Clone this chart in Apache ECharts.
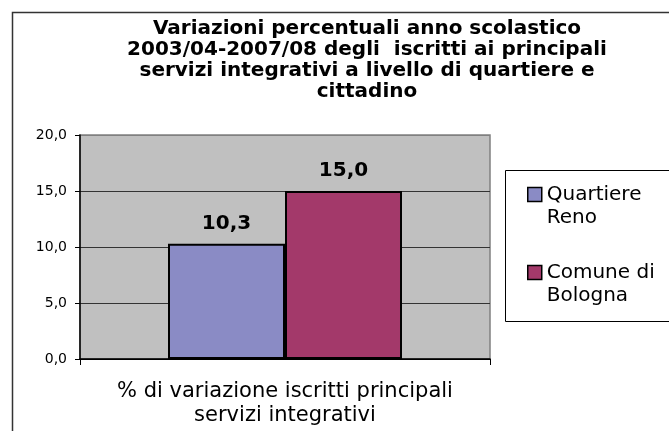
<!DOCTYPE html>
<html>
<head>
<meta charset="utf-8">
<script src="https://cdn.jsdelivr.net/npm/echarts@6/dist/echarts.min.js"></script>
<style>html,body{margin:0;padding:0;background:#fff;}#c{width:669px;height:431px;}</style>
</head>
<body>
<div id="c"></div>
<script>
var categories = ['% di variazione iscritti principali\nservizi integrativi'];
var seriesNames = ['Quartiere Reno', 'Comune di Bologna'];
var legendLabels = ['\nQuartiere\nReno', '\nComune di\nBologna'];
var quartiereReno = [10.3];
var comuneBologna = [15.0];
var yTicks = [0, 5, 10, 15, 20];

var FONT = 'DejaVu Sans';
function fmt(v) { return Number(v).toFixed(1).replace('.', ','); }

var chart = echarts.init(document.getElementById('c'), null, {renderer: 'canvas'});
chart.setOption({
  animation: false,
  backgroundColor: '#ffffff',
  title: {
    text: 'Variazioni percentuali anno scolastico\n2003/04-2007/08 degli  iscritti ai principali\nservizi integrativi a livello di quartiere e\ncittadino',
    left: 367,
    top: 18.5,
    padding: 0,
    textAlign: 'center',
    textStyle: {fontFamily: FONT, fontWeight: 'bold', fontSize: 20, lineHeight: 21, color: '#000'}
  },
  graphic: [
    {type: 'rect', z: -10, shape: {x: 12.5, y: 12.5, width: 900, height: 700}, style: {fill: 'none', stroke: '#333', lineWidth: 1.5}, silent: true},
    {type: 'rect', z: 0, shape: {x: 505.5, y: 170.5, width: 300, height: 151}, style: {fill: '#fff', stroke: '#000', lineWidth: 1}, silent: true}
  ],
  legend: {
    orient: 'vertical',
    left: 527,
    top: 160,
    padding: 0,
    itemGap: 9,
    itemWidth: 14,
    itemHeight: 14,
    itemStyle: {borderColor: '#000', borderWidth: 1.5},
    icon: 'rect',
    data: seriesNames,
    formatter: function (name) {
      return legendLabels[seriesNames.indexOf(name)];
    },
    textStyle: {fontFamily: FONT, fontSize: 20, lineHeight: 23, color: '#000'}
  },
  grid: {
    left: 80, right: 179, top: 135, bottom: 72,
    show: true, backgroundColor: '#C0C0C0', borderColor: '#808080', borderWidth: 1.5
  },
  xAxis: {
    type: 'category',
    data: categories,
    boundaryGap: true,
    axisLine: {show: true, lineStyle: {color: '#000', width: 1.5}},
    axisTick: {show: true, length: 6, lineStyle: {color: '#000'}},
    axisLabel: {fontFamily: FONT, fontSize: 21, lineHeight: 24, color: '#000', margin: 21}
  },
  yAxis: {
    type: 'value',
    min: yTicks[0],
    max: yTicks[yTicks.length - 1],
    interval: 5,
    axisLine: {show: true, lineStyle: {color: '#000', width: 1.5}},
    axisTick: {show: true, length: 5, lineStyle: {color: '#000'}},
    axisLabel: {fontFamily: FONT, fontSize: 14, color: '#000', margin: 13, formatter: fmt},
    splitLine: {show: true, lineStyle: {color: ['#000', '#333', '#333', '#333', '#808080'], width: 1}}
  },
  series: [
    {
      name: seriesNames[0], type: 'bar', data: quartiereReno, barWidth: 117, barGap: '0%',
      itemStyle: {color: '#8A8BC5', borderColor: '#000', borderWidth: 2},
      label: {show: true, position: 'top', distance: 10, formatter: function (p) { return fmt(p.value); },
        fontFamily: FONT, fontWeight: 'bold', fontSize: 20, color: '#000'}
    },
    {
      name: seriesNames[1], type: 'bar', data: comuneBologna, barWidth: 117, barGap: '0%',
      itemStyle: {color: '#A3396A', borderColor: '#000', borderWidth: 2},
      label: {show: true, position: 'top', distance: 10, formatter: function (p) { return fmt(p.value); },
        fontFamily: FONT, fontWeight: 'bold', fontSize: 20, color: '#000'}
    }
  ]
});
</script>
</body>
</html>
